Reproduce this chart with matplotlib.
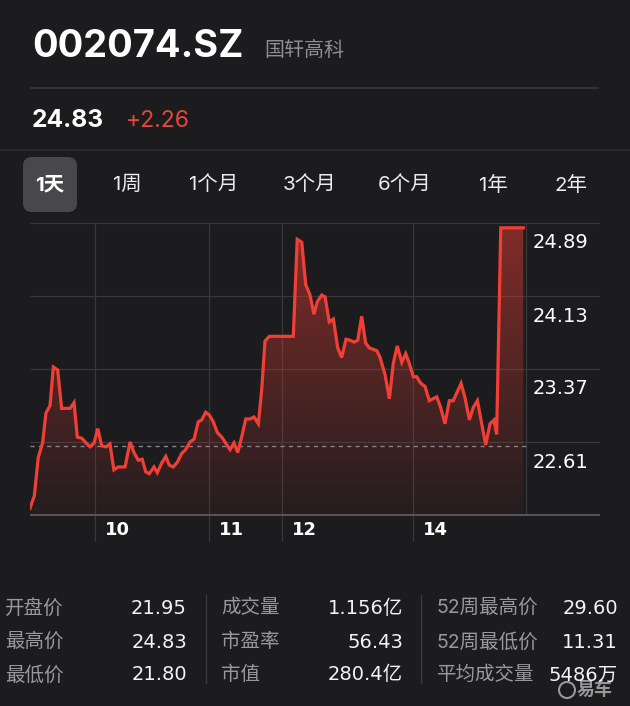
import matplotlib
matplotlib.use('Agg')
import matplotlib.pyplot as plt
import numpy as np
from matplotlib.patches import FancyBboxPatch, PathPatch, Circle
from matplotlib.colors import to_rgb

# ---------------- data ----------------
symbol = "002074.SZ"
company = "国轩高科"
last_price = "24.83"
change = "+2.26"
prev_close = 22.57

tabs = ["1天", "1周", "1个月", "3个月", "6个月", "1年", "2年"]

# intraday series (time units: trading minutes since open, 240 = close)
t = [0, 2.1, 4.0, 6.1, 7.7, 9.7, 11.3, 13.4, 15.3, 19.4,
     21.3, 22.9, 25.0, 27.1, 29.0, 31.0, 32.8, 34.7, 36.8, 38.7,
     40.6, 42.7, 46.0, 48.4, 50.3, 52.4, 54.3, 56.0, 57.7, 60.0,
     61.6, 63.7, 65.7, 67.4, 69.3, 71.3, 73.4, 75.3, 77.4, 79.4,
     81.4, 83.1, 85.0, 86.8, 88.7, 90.6, 92.8, 94.7, 96.8, 98.7,
     100.5, 102.4, 104.4, 106.5, 108.4, 110.5, 112.1, 113.7, 115.8, 127.4,
     129.3, 131.5, 133.4, 135.5, 137.4, 139.0, 141.2, 142.8, 144.8, 146.8,
     148.9, 150.8, 152.9, 154.8, 156.8, 158.6, 160.5, 162.4, 164.2, 167.8,
     169.4, 171.8, 173.9, 175.8, 177.7, 179.9, 181.8, 183.5, 185.5, 187.1,
     189.1, 191.1, 193.2, 196.8, 198.7, 200.8, 202.9, 204.8, 208.6, 210.5,
     212.6, 214.5, 216.5, 220.5, 222.6, 224.5, 225.8, 227.8, 238.7]
price = [21.92, 22.05, 22.45, 22.60, 22.91, 22.99, 23.39, 23.36, 22.96, 22.96,
         23.02, 22.66, 22.65, 22.60, 22.56, 22.60, 22.75, 22.57, 22.56, 22.59,
         22.32, 22.35, 22.35, 22.61, 22.50, 22.42, 22.43, 22.30, 22.28, 22.35,
         22.29, 22.39, 22.46, 22.37, 22.35, 22.40, 22.49, 22.53, 22.61, 22.64,
         22.82, 22.84, 22.92, 22.89, 22.82, 22.71, 22.66, 22.60, 22.53, 22.60,
         22.50, 22.66, 22.85, 22.85, 22.87, 22.80, 23.15, 23.66, 23.71, 23.71,
         24.72, 24.69, 24.25, 24.14, 23.94, 24.07, 24.14, 24.12, 23.86, 23.89,
         23.59, 23.49, 23.68, 23.67, 23.65, 23.67, 23.92, 23.64, 23.59, 23.56,
         23.49, 23.31, 23.06, 23.43, 23.61, 23.44, 23.53, 23.43, 23.29, 23.29,
         23.22, 23.19, 23.04, 23.08, 22.97, 22.80, 23.04, 23.04, 23.22, 23.07,
         22.84, 22.97, 23.04, 22.58, 22.80, 22.84, 22.69, 24.84, 24.84]

session_end = 240
x_ticks = [31.5, 86.6, 121.9, 185.3]
x_labels = ["10", "11", "12", "14"]
y_ticks = [24.89, 24.13, 23.37, 22.61]
baseline = 21.85

stat_labels = [["开盘价", "最高价", "最低价"],
               ["成交量", "市盈率", "市值"],
               ["52周最高价", "52周最低价", "平均成交量"]]
stat_values = [["21.95", "24.83", "21.80"],
               ["1.156亿", "56.43", "280.4亿"],
               ["29.60", "11.31", "5486万"]]

# ---------------- style ----------------
BG = '#1c1c1e'
RED = '#f23f36'
GRID = '#38383a'
FONT = ['Inter', 'Noto Sans CJK SC', 'DejaVu Sans']
NUMF = ['DejaVu Sans', 'Noto Sans CJK SC']
W, H = 630, 706
PT = 0.72  # points per pixel at dpi 100

fig = plt.figure(figsize=(W / 100, H / 100), dpi=100, facecolor=BG)
bg = fig.add_axes([0, 0, 1, 1])
bg.set_xlim(0, W)
bg.set_ylim(H, 0)
bg.axis('off')

# header
bg.text(32, 57, symbol, color='white', fontsize=38 * PT, fontweight='bold',
        family=FONT, va='baseline', ha='left')
bg.text(264, 56, company, color='#8e8e93', fontsize=20 * PT,
        family=FONT, va='baseline', ha='left')
bg.plot([31, 598], [87.5, 87.5], color='#3a3a3c', lw=1.2)
bg.text(32, 127, last_price, color='white', fontsize=24.5 * PT, fontweight='bold',
        family=FONT, va='baseline', ha='left')
bg.text(126, 127, change, color='#e8453c', fontsize=23 * PT,
        family=FONT, va='baseline', ha='left')
bg.plot([0, W], [150, 150], color='#2c2c2e', lw=1.2)

# tabs
tab_x = [50, 127, 214, 310, 405, 493, 571]
bg.add_patch(FancyBboxPatch((23, 157), 54, 55, boxstyle='round,pad=0,rounding_size=9',
                            facecolor='#48484a', edgecolor='none'))
for i, (lab, x) in enumerate(zip(tabs, tab_x)):
    bg.text(x, 185, lab, color='white' if i == 0 else '#ececf0',
            fontsize=20.5 * PT, fontweight='bold' if i == 0 else 'normal',
            family=FONT, ha='center', va='center')

# ---------------- chart ----------------
PX_T = 496 / 240
PX_P = 73 / 0.76
ax_l, ax_r, ax_t, ax_b = 30, 600, 223, 542
ax = fig.add_axes([ax_l / W, 1 - ax_b / H, (ax_r - ax_l) / W, (ax_b - ax_t) / H])
xmax = (ax_r - ax_l) / PX_T
ytop = y_ticks[0]
ybot = ytop - (ax_b - ax_t) / PX_P
ax.patch.set_alpha(0)
ax.axis('off')

for yv in y_ticks:
    ax.plot([0, xmax], [yv, yv], color=GRID, lw=0.9, zorder=1, solid_capstyle='butt')
for xv in x_ticks:
    ax.plot([xv, xv], [ybot, ytop], color=GRID, lw=0.9, zorder=1)
ax.plot([session_end, session_end], [baseline, ytop], color=GRID, lw=0.9, zorder=1)
ax.plot([0, xmax], [baseline, baseline], color='#5c5c60', lw=1.3, zorder=1)

# gradient fill
poly = ax.fill_between(t, price, baseline, color='none', lw=0)
clip = PathPatch(poly.get_paths()[0], transform=ax.transData, facecolor='none', edgecolor='none')
ax.add_patch(clip)
grad = np.zeros((256, 1, 4))
grad[..., :3] = to_rgb(RED)
grad[:, 0, 3] = np.linspace(0.48, 0.04, 256)
im = ax.imshow(grad, extent=[0, t[-1], baseline, ytop], aspect='auto', origin='upper',
               zorder=2, interpolation='bilinear')
im.set_clip_path(clip)

ax.plot([0, session_end], [prev_close, prev_close], color='#8e8e93', lw=1.0,
        ls=(0, (3, 3)), zorder=3, alpha=0.9)
ax.plot(t, price, color=RED, lw=2.3, zorder=4, solid_joinstyle='miter')

ax.set_xlim(0, xmax)
ax.set_ylim(ybot, ytop)

for xv, lab in zip(x_ticks, x_labels):
    ax.annotate(lab, xy=(xv, baseline), xytext=(10, -15), textcoords='offset pixels',
                color='white', fontsize=18 * PT, fontweight='semibold', family=NUMF,
                ha='left', va='center', annotation_clip=False)
for yv in y_ticks:
    ax.annotate(f"{yv:.2f}", xy=(session_end, yv), xytext=(7, -20), textcoords='offset pixels',
                color='white', fontsize=19.5 * PT, fontweight='normal', family=NUMF,
                ha='left', va='center', annotation_clip=False)

# ---------------- stats ----------------
col_lab_x = [5, 221, 437]
col_val_x = [187, 403, 618]
row_y = [608, 642, 675]
for c in range(3):
    for r in range(3):
        bg.text(col_lab_x[c], row_y[r], stat_labels[c][r], color='#98989d',
                fontsize=19.5 * PT, family=FONT, ha='left', va='center')
        bg.text(col_val_x[c], row_y[r], stat_values[c][r], color='#f2f2f7',
                fontsize=19.5 * PT, family=NUMF, ha='right', va='center')
for sx in [205.5, 421]:
    bg.plot([sx, sx], [595, 683], color='#3a3a3c', lw=1)

# watermark
bg.add_patch(Circle((567, 690), 8, facecolor='none', edgecolor='white', lw=1.5, alpha=0.55))
bg.text(577, 690, "易车", color='white', alpha=0.55, fontsize=18 * PT, fontweight='bold',
        family=FONT, ha='left', va='center')

fig.savefig('out.png', dpi=100, facecolor=BG)
